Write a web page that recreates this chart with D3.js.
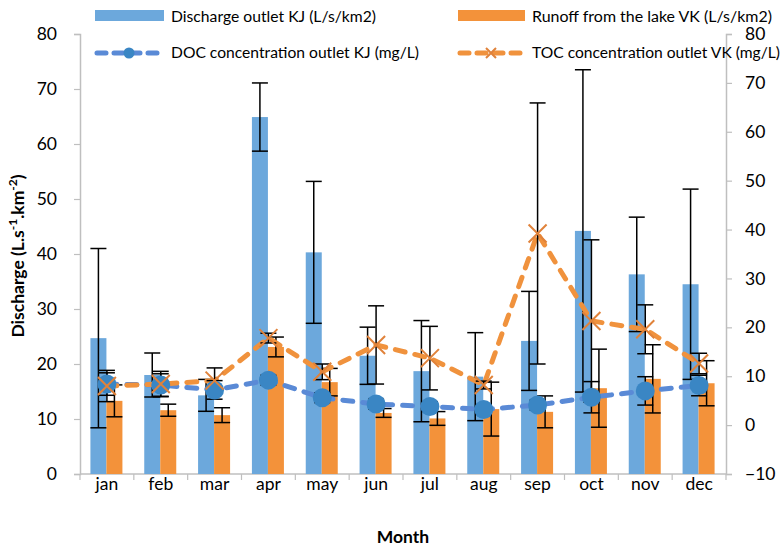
<!DOCTYPE html>
<html><head><meta charset="utf-8">
<script src="https://cdn.jsdelivr.net/npm/d3@7"></script>
<style>
html,body{margin:0;padding:0;background:#fff;}
svg{display:block;font-family:Lato,"Open Sans",sans-serif;}
</style></head>
<body>
<svg id="chart" width="780" height="548"></svg>
<script>
const months = ["jan","feb","mar","apr","may","jun","jul","aug","sep","oct","nov","dec"];
const discharge    = [24.7, 18.0, 14.3, 64.9, 40.3, 21.5, 18.7, 17.7, 24.2, 44.2, 36.3, 34.5];
const dischargeErr = [16.3, 4.0, 2.9, 6.2, 12.9, 5.2, 9.2, 8.0, 9.0, 29.3, 10.4, 17.3];
const runoff       = [13.3, 11.6, 10.7, 23.1, 16.7, 11.1, 10.1, 11.8, 11.3, 15.6, 17.3, 16.5];
const runoffErr    = [2.9, 1.1, 1.35, 1.8, 2.5, 0.8, 1.25, 4.9, 2.9, 7.1, 6.2, 4.1];
const doc          = [8.4, 8.2, 7.2, 9.2, 5.6, 4.3, 3.8, 3.2, 4.1, 5.7, 7.0, 8.1];
const docErr       = [2.3, 2.3, 1.9, 1.0, 1.0, 1.0, 1.0, 1.0, 1.0, 3.2, 2.9, 2.1];
const toc          = [8.0, 8.4, 9.1, 17.8, 10.9, 16.4, 13.7, 8.2, 39.2, 21.3, 19.6, 12.6];
const tocErr       = [3.2, 2.6, 2.6, 1.0, 1.6, 8.0, 6.5, 0.8, 26.7, 16.6, 5.0, 2.1];
const leftTicks  = [0,10,20,30,40,50,60,70,80];
const rightTicks = [-10,0,10,20,30,40,50,60,70,80];
const legendLabels = ["Discharge outlet KJ (L/s/km2)","Runoff from the lake VK (L/s/km2)",
                      "DOC concentration outlet KJ (mg/L)","TOC concentration outlet VK (mg/L)"];

const C = {blue:"#6CA8DC", orange:"#F3923A", docLine:"#5A8AD6", docMarker:"#3A86C4", tocLine:"#F0923D", tocMarker:"#E0823A", axis:"#BFBFBF"};
const svg = d3.select("#chart");
const L = 80, R = 726, T = 34, B = 474;

const x = d3.scaleBand().domain(months).range([L, R]).padding(0);
const bw = x.bandwidth();
const inner = d3.scaleBand().domain(["discharge","runoff"]).range([0, 32]);
const yL = d3.scaleLinear().domain([0, 80]).range([B, T]);
const yR = d3.scaleLinear().domain([-10, 80]).range([B, T]);
const cx = m => x(m) + bw/2;
const gx = m => x(m) + (bw - 32)/2 - 0.5;

// axes
const axL = svg.append("g").attr("transform",`translate(${L},0)`)
  .call(d3.axisLeft(yL).tickValues(leftTicks).tickSize(6).tickPadding(17));
const axR = svg.append("g").attr("transform",`translate(${R},0)`)
  .call(d3.axisRight(yR).tickValues(rightTicks).tickSize(6).tickPadding(13));
const axB = svg.append("g").attr("transform",`translate(0,${B})`)
  .call(d3.axisBottom(x).tickSize(0).tickPadding(0));
axB.select(".domain").remove();
svg.append("g").selectAll("line").data(d3.range(months.length+1)).join("line")
  .attr("x1", i => L + i*bw).attr("x2", i => L + i*bw).attr("y1", B).attr("y2", B+6)
  .attr("stroke", C.axis).attr("stroke-width",1.2);
svg.append("line").attr("x1",L).attr("x2",R).attr("y1",B).attr("y2",B).attr("stroke",C.axis).attr("stroke-width",1.5);
[axL, axR, axB].forEach(a => {
  a.selectAll(".domain").attr("stroke", C.axis).attr("stroke-width",1.5);
  a.selectAll(".tick line").attr("stroke", C.axis).attr("stroke-width",1.2);
  a.selectAll(".tick text").attr("font-size", 17.5).attr("fill","#000").attr("font-family","Lato, sans-serif");
});
axB.selectAll(".tick text").attr("dy","0").attr("y", 16);

// bars
const barData = months.map((m,i) => ({m, d: discharge[i], de: dischargeErr[i], r: runoff[i], re: runoffErr[i]}));
const bars = svg.append("g");
bars.selectAll(".bd").data(barData).join("rect")
  .attr("x", d => gx(d.m) + inner("discharge")).attr("width", inner.bandwidth())
  .attr("y", d => yL(d.d)).attr("height", d => yL(0) - yL(d.d)).attr("fill", C.blue);
bars.selectAll(".br").data(barData).join("rect")
  .attr("x", d => gx(d.m) + inner("runoff")).attr("width", inner.bandwidth())
  .attr("y", d => yL(d.r)).attr("height", d => yL(0) - yL(d.r)).attr("fill", C.orange);

function errBars(g, data, xf, yf, v, e){
  const cap = 8;
  const eg = g.append("g").attr("stroke","#000").attr("stroke-width",1.5).attr("fill","none");
  data.forEach((d,i) => {
    const xx = xf(d,i), y1 = yf(v(d,i) + e(d,i)), y2 = yf(v(d,i) - e(d,i));
    eg.append("line").attr("x1",xx).attr("x2",xx).attr("y1",y1).attr("y2",y2);
    eg.append("line").attr("x1",xx-cap).attr("x2",xx+cap).attr("y1",y1).attr("y2",y1);
    eg.append("line").attr("x1",xx-cap).attr("x2",xx+cap).attr("y1",y2).attr("y2",y2);
  });
}
errBars(svg, barData, d => gx(d.m) + inner("discharge") + inner.bandwidth()/2, yL, d => d.d, d => d.de);
errBars(svg, barData, d => gx(d.m) + inner("runoff") + inner.bandwidth()/2, yL, d => d.r, d => d.re);

// lines
const lineData = months.map((m,i) => ({m, doc: doc[i], docE: docErr[i], toc: toc[i], tocE: tocErr[i]}));
const docLine = d3.line().x(d => cx(d.m)).y(d => yR(d.doc));
const tocLine = d3.line().x(d => cx(d.m)).y(d => yR(d.toc));
svg.append("path").attr("d", docLine(lineData)).attr("fill","none").attr("stroke",C.docLine)
  .attr("stroke-width",5).attr("stroke-dasharray","10,10").attr("stroke-linecap","round");
svg.append("path").attr("d", tocLine(lineData)).attr("fill","none").attr("stroke",C.tocLine)
  .attr("stroke-width",5).attr("stroke-dasharray","10,10").attr("stroke-linecap","round");

errBars(svg, lineData, d => cx(d.m), yR, d => d.toc, d => d.tocE);
errBars(svg, lineData, d => cx(d.m), yR, d => d.doc, d => d.docE);

svg.append("g").selectAll("circle").data(lineData).join("circle")
  .attr("cx", d => cx(d.m)).attr("cy", d => yR(d.doc)).attr("r", 9.5).attr("fill", C.docMarker);

function xMark(g, px, py, s){
  g.append("path").attr("d", `M${px-s},${py-s}L${px+s},${py+s}M${px-s},${py+s}L${px+s},${py-s}`)
   .attr("stroke", C.tocMarker).attr("stroke-width",2).attr("fill","none");
}
const xm = svg.append("g");
lineData.forEach(d => xMark(xm, cx(d.m), yR(d.toc), 9));

// axis titles
svg.append("text").attr("x", 403).attr("y", 543).attr("text-anchor","middle")
  .attr("font-size",17.5).attr("font-weight","bold").text("Month");
const yt = svg.append("text").attr("transform","translate(24,256) rotate(-90)").attr("text-anchor","middle")
  .attr("font-size",17.5).attr("font-weight","bold");
yt.append("tspan").text("Discharge (L.s");
yt.append("tspan").attr("font-size",12).attr("dy",-7).text("-1");
yt.append("tspan").attr("dy",7).text(".km");
yt.append("tspan").attr("font-size",12).attr("dy",-7).text("-2");
yt.append("tspan").attr("dy",7).text(")");

// legend
const lg = svg.append("g").attr("font-size",14.5).attr("fill","#000");
lg.append("rect").attr("x",95).attr("y",10).attr("width",69).attr("height",11).attr("fill",C.blue);
lg.append("rect").attr("x",458).attr("y",10).attr("width",67).attr("height",11).attr("fill",C.orange);
lg.append("line").attr("x1",97).attr("x2",162).attr("y1",53).attr("y2",53).attr("stroke",C.docLine)
  .attr("stroke-width",5).attr("stroke-dasharray","9,8").attr("stroke-linecap","round");
lg.append("circle").attr("cx",129).attr("cy",53).attr("r",5.5).attr("fill",C.docMarker);
lg.append("line").attr("x1",460).attr("x2",523).attr("y1",53).attr("y2",53).attr("stroke",C.tocLine)
  .attr("stroke-width",5).attr("stroke-dasharray","9,8").attr("stroke-linecap","round");
xMark(lg, 491, 53, 5);
const lpos = [[171,22],[532,22],[171,58],[532,58]];
const lw = [205,240,248,248];
legendLabels.forEach((t,i) => {
  lg.append("text").attr("x",lpos[i][0]).attr("y",lpos[i][1]).attr("textLength",lw[i])
    .attr("lengthAdjust","spacingAndGlyphs").text(t);
});
</script>
</body></html>
